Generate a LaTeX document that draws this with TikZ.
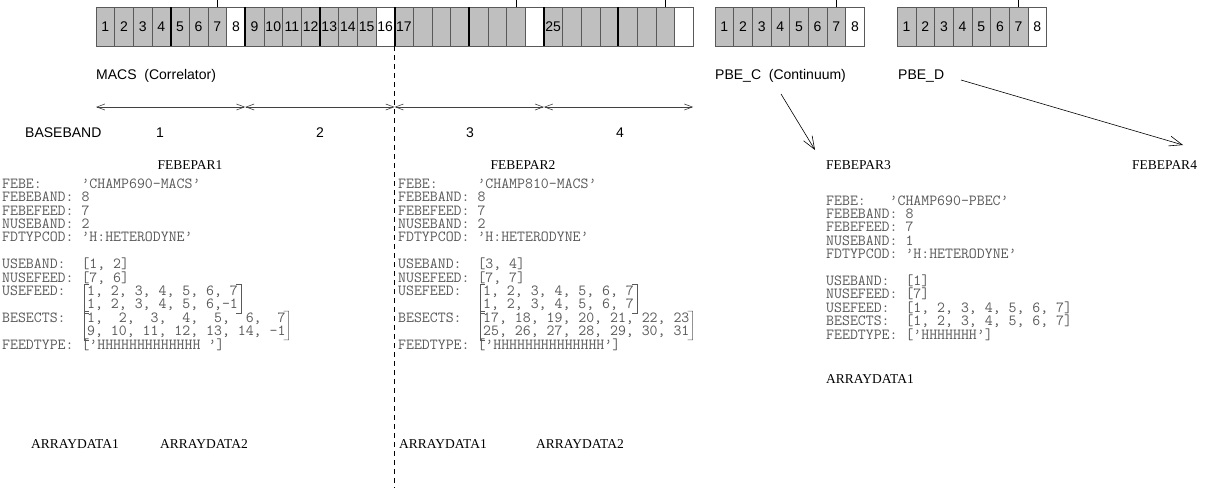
\documentclass[tikz,border=0pt]{standalone}
\usepackage{fontspec}
\setmainfont{Liberation Serif}
\setsansfont{Liberation Sans}
\usetikzlibrary{arrows.meta,calc}
\definecolor{cellgray}{gray}{0.75}
\definecolor{codegray}{gray}{0.35}
\newcommand\mbr[2]{%
  \draw[brk] ($(#1.north west)+(2,-1.5)$) -- ($(#1.north west)+(-3,-1.5)$) -- ($(#2.south west)+(-3,1)$) -- ($(#2.south west)+(2,1)$);
  \draw[brk] ($(#1.north east)+(-2,-1.5)$) -- ($(#1.north east)+(3,-1.5)$) -- ($(#2.south east)+(3,1)$) -- ($(#2.south east)+(-2,1)$);}
\begin{document}
\begin{tikzpicture}[x=1pt,y=-1pt,
  lbl/.style={font=\sffamily\fontsize{14}{16}\selectfont, inner sep=0pt},
  cnum/.style={font=\sffamily\fontsize{14}{16}\selectfont, inner sep=0pt},
  parlbl/.style={font=\rmfamily\fontsize{13.5}{16}\selectfont, inner sep=0pt},
  code/.style={font=\ttfamily\fontsize{15.4}{13.5}\selectfont, inner sep=0pt, text=codegray, anchor=base west, text height=9.5pt, text depth=3pt},
  cellbox/.style={draw=black!65, line width=0.6pt},
  grp/.style={line width=2pt, draw=black},
  bbarrow/.style={draw=black!75, line width=0.6pt, {Straight Barb[length=8pt,width=6pt]}-{Straight Barb[length=8pt,width=6pt]}},
  pbearrow/.style={draw=black, line width=0.6pt, -{Straight Barb[length=13pt,width=10pt]}},
  brk/.style={draw=codegray, line width=0.6pt},
  sep/.style={draw=black, line width=0.6pt, dash pattern=on 5pt off 4pt}
]
\useasboundingbox (0,0) rectangle (1215,488);

% ---- MACS strip
\foreach \i in {1,...,32}{
  \pgfmathsetmacro\xa{96+(\i-1)*18.66}
  \pgfmathtruncatemacro\m{mod(\i,8)}
  \ifnum\m=0 \filldraw[cellbox, fill=white] (\xa,7) rectangle ++(18.66,39);
  \else \filldraw[cellbox, fill=cellgray] (\xa,7) rectangle ++(18.66,39); \fi
}
\foreach \k in {4,8,...,28} \draw[grp] ({96+\k*18.66},7) -- ++(0,39);
\foreach \i in {1,...,16} \node[cnum] (m\i) at ({96+(\i-0.5)*18.66},27) {\i};
\node[cnum] (m17) at ({96+16.5*18.66},27) {17};
\node[cnum] (m25) at ({96+24.5*18.66},27) {25};
\foreach \c in {7,23,31} \draw[line width=0.6pt] ({96+(\c-0.5)*18.66},0) -- ++(0,7);

% ---- PBE strips
\foreach \xo/\nm in {715/c,897.3/d}{
  \foreach \i in {1,...,8}{
    \pgfmathsetmacro\xa{\xo+(\i-1)*18.66}
    \ifnum\i=8 \filldraw[cellbox, fill=white] (\xa,7) rectangle ++(18.66,39);
    \else \filldraw[cellbox, fill=cellgray] (\xa,7) rectangle ++(18.66,39); \fi
    \node[cnum] (p\nm\i) at ({\xo+(\i-0.5)*18.66},27) {\i};
  }
  \draw[line width=0.6pt] ({\xo+6.5*18.66},0) -- ++(0,7);
}

% ---- labels
\node[lbl, anchor=west] (macs) at (96,76) {MACS\ \ (Correlator)};
\node[lbl, anchor=west] (pbec) at (715,76) {PBE\_C\ \ (Continuum)};
\node[lbl, anchor=west] (pbed) at (898,76) {PBE\_D};

% ---- baseband arrows
\foreach \j/\xx in {0/96,1/245.3,2/394.6,3/543.9,4/693.2} \coordinate (bb\j) at (\xx,107);
\draw[bbarrow] (bb0) -- (bb1);
\draw[bbarrow] (bb1) -- (bb2);
\draw[bbarrow] (bb2) -- (bb3);
\draw[bbarrow] (bb3) -- (bb4);
\node[lbl, anchor=west] (bbl) at (25,133) {BASEBAND};
\node[lbl] (bn1) at (160,133) {1};
\node[lbl] (bn2) at (320,133) {2};
\node[lbl] (bn3) at (470,133) {3};
\node[lbl] (bn4) at (620,133) {4};

% ---- separator
\coordinate (dtop) at (394.6,46);
\coordinate (dbot) at (394.6,488);
\draw[sep] (dtop) -- (dbot);

% ---- FEBEPAR labels
\node[parlbl] (fp1) at (190,165) {FEBEPAR1};
\node[parlbl] (fp2) at (523,165) {FEBEPAR2};
\node[parlbl, anchor=west] (fp3) at (826,165) {FEBEPAR3};
\node[parlbl, anchor=west] (fp4) at (1132,165) {FEBEPAR4};

% ---- PBE arrows
\coordinate (pcs) at (781,94);
\coordinate (pce) at (815,150);
\coordinate (pds) at (961,80);
\coordinate (pde) at (1183,145);
\draw[pbearrow] (pcs) -- (pce);
\draw[pbearrow] (pds) -- (pde);

% ---- block 1
\node[code] (a1) at (2,188.3) {FEBE:~~~~~’CHAMP690-MACS’};
\node[code] (a2) at (2,201.7) {FEBEBAND:~8};
\node[code] (a3) at (2,215.1) {FEBEFEED:~7};
\node[code] (a4) at (2,228.5) {NUSEBAND:~2};
\node[code] (a5) at (2,241.9) {FDTYPCOD:~’H:HETERODYNE’};
\node[code] (a6) at (2,268.7) {USEBAND:~~[1,~2]};
\node[code] (a7) at (2,282.1) {NUSEFEED:~[7,~6]};
\node[code] (a8) at (2,295.5) {USEFEED:};
\node[code] (a8r1) at (87,295.5) {1,~2,~3,~4,~5,~6,~7};
\node[code] (a8r2) at (87,308.9) {1,~2,~3,~4,~5,~6,-1};
\node[code] (a9) at (2,322.3) {BESECTS:};
\node[code] (a9r1) at (87,322.3) {1,~~2,~~3,~~4,~~5,~~6,~~7};
\node[code] (a9r2) at (87,335.7) {9,~10,~11,~12,~13,~14,~-1};
\node[code] (a10) at (2,349.1) {FEEDTYPE:~[’HHHHHHHHHHHHH~’]};
\mbr{a8r1}{a8r2}
\mbr{a9r1}{a9r2}
\node[parlbl] (ad11) at (75,444) {ARRAYDATA1};
\node[parlbl] (ad12) at (204,444) {ARRAYDATA2};

% ---- block 2
\node[code] (b1) at (398,188.3) {FEBE:~~~~~’CHAMP810-MACS’};
\node[code] (b2) at (398,201.7) {FEBEBAND:~8};
\node[code] (b3) at (398,215.1) {FEBEFEED:~7};
\node[code] (b4) at (398,228.5) {NUSEBAND:~2};
\node[code] (b5) at (398,241.9) {FDTYPCOD:~’H:HETERODYNE’};
\node[code] (b6) at (398,268.7) {USEBAND:~~[3,~4]};
\node[code] (b7) at (398,282.1) {NUSEFEED:~[7,~7]};
\node[code] (b8) at (398,295.5) {USEFEED:};
\node[code] (b8r1) at (483,295.5) {1,~2,~3,~4,~5,~6,~7~};
\node[code] (b8r2) at (483,308.9) {1,~2,~3,~4,~5,~6,~7~};
\node[code] (b9) at (398,322.3) {BESECTS:};
\node[code] (b9r1) at (483,322.3) {17,~18,~19,~20,~21,~22,~23~};
\node[code] (b9r2) at (483,335.7) {25,~26,~27,~28,~29,~30,~31~};
\node[code] (b10) at (398,349.1) {FEEDTYPE:~[’HHHHHHHHHHHHHH’]};
\mbr{b8r1}{b8r2}
\mbr{b9r1}{b9r2}
\node[parlbl] (ad21) at (443,444) {ARRAYDATA1};
\node[parlbl] (ad22) at (580,444) {ARRAYDATA2};

% ---- block 3
\node[code] (c1) at (826,205) {FEBE:~~~’CHAMP690-PBEC’};
\node[code] (c2) at (826,218.4) {FEBEBAND:~8};
\node[code] (c3) at (826,231.8) {FEBEFEED:~7};
\node[code] (c4) at (826,245.2) {NUSEBAND:~1};
\node[code] (c5) at (826,258.6) {FDTYPCOD:~’H:HETERODYNE’};
\node[code] (c6) at (826,285.4) {USEBAND:~~[1]};
\node[code] (c7) at (826,298.8) {NUSEFEED:~[7]};
\node[code] (c8) at (826,312.2) {USEFEED:~~[1,~2,~3,~4,~5,~6,~7]};
\node[code] (c9) at (826,325.6) {BESECTS:~~[1,~2,~3,~4,~5,~6,~7]};
\node[code] (c10) at (826,339) {FEEDTYPE:~[’HHHHHHH’]};
\node[parlbl, anchor=west] (ad31) at (826,379) {ARRAYDATA1};
\end{tikzpicture}
\end{document}
